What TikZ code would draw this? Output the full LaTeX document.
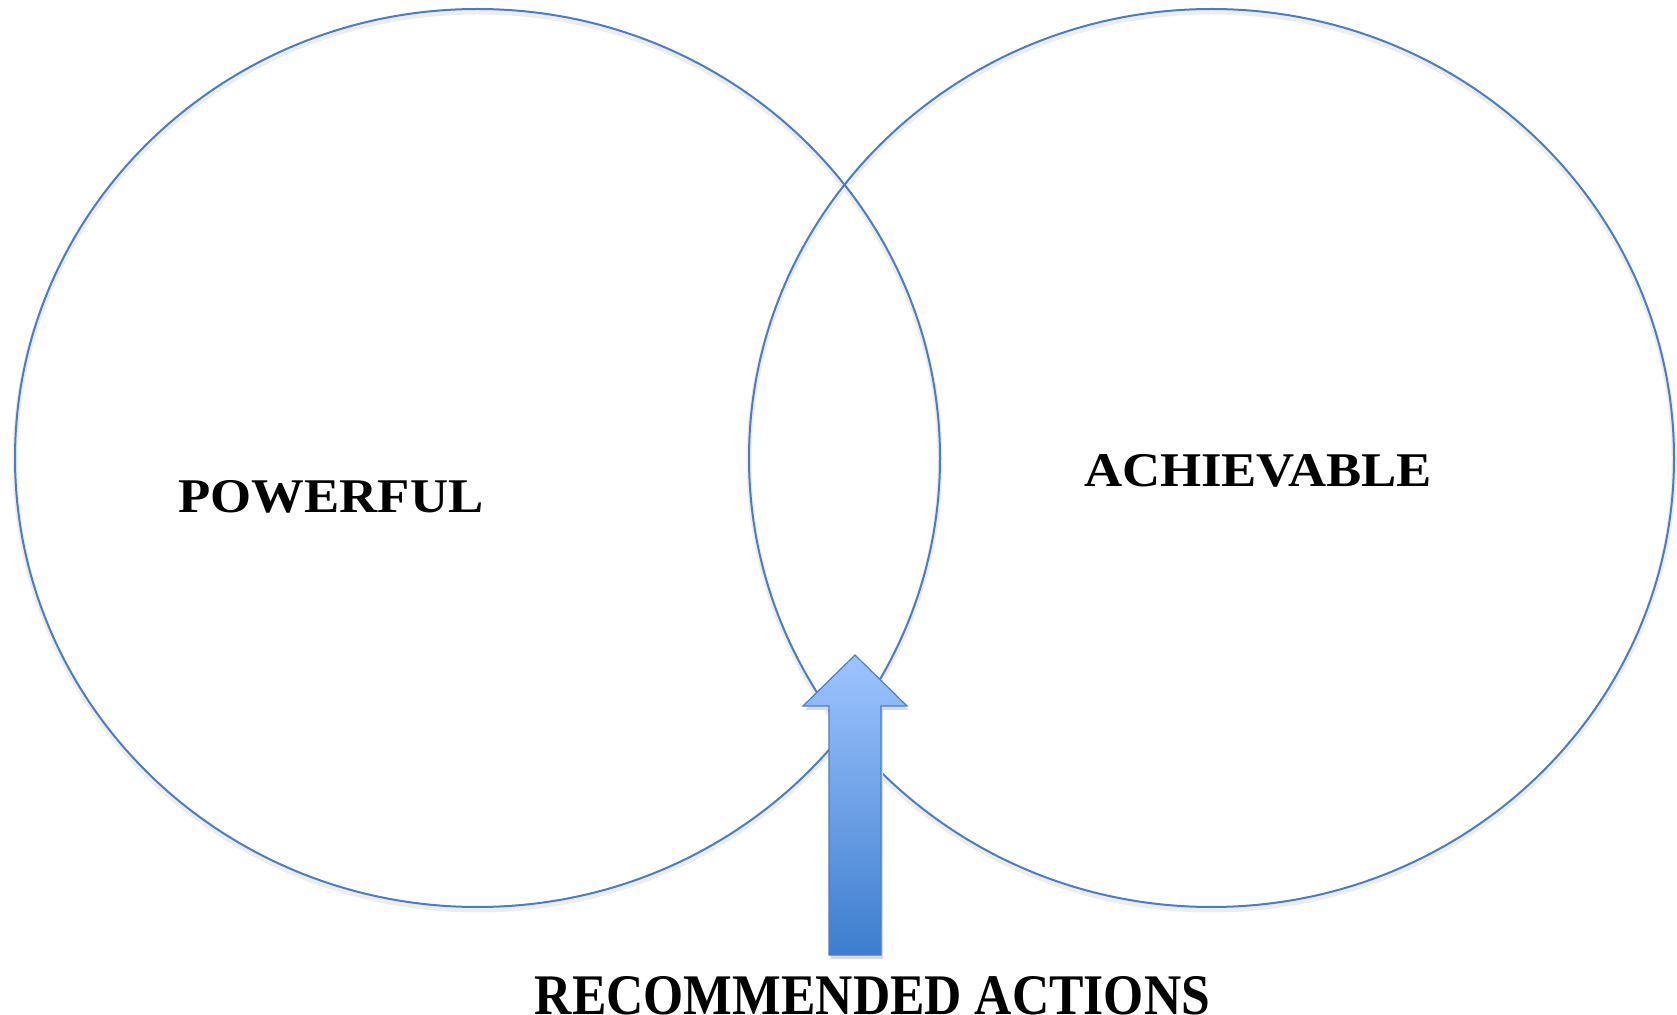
\documentclass[tikz,border=0pt]{standalone}
\usepackage{fontspec}
\setmainfont{Liberation Serif}

\definecolor{vennblue}{HTML}{4A7DC5}
\definecolor{arrowtop}{HTML}{9EC4FF}
\definecolor{arrowbot}{HTML}{3D7DCE}

\tikzset{
  venn/.style={draw=vennblue, line width=1pt},
  vennshadow/.style={draw=black!7, line width=2.5pt},
  vennlabel/.style={font=\bfseries\fontsize{24.2}{29}\selectfont, anchor=base, xscale=1.09},
}

\begin{document}
\begin{tikzpicture}[x=0.5pt, y=-0.5pt]

    % Page frame (pixel units, y downwards)
    \useasboundingbox (0,0) rectangle (1677,1015);

    % Soft shadows of the two sets
    \draw[vennshadow] (477.5,461) ellipse [x radius=462.5, y radius=449];
    \draw[vennshadow] (1211.5,461) ellipse [x radius=462.5, y radius=449];

    % Sets
    \draw[venn] (477.5,458) ellipse [x radius=462.5, y radius=449];
    \draw[venn] (1211.5,458) ellipse [x radius=462.5, y radius=449];

    \node[vennlabel] (powerful) at (331,513) {POWERFUL};
    \node[vennlabel] (achievable) at (1258,487) {ACHIEVABLE};

    % Arrow into the overlap
    \fill[black!15] (857,659) -- (909,710) -- (883,710) -- (883,959) -- (831,959) -- (831,710) -- (805,710) -- cycle;
    \shade[top color=arrowtop, bottom color=arrowbot, draw=vennblue, line width=0.6pt]
        (855,655) -- (907,706) -- (881,706) -- (881,955) -- (829,955) -- (829,706) -- (803,706) -- cycle;

    \node[vennlabel, font=\bfseries\fontsize{28.7}{34}\selectfont, xscale=0.899/1.09] (actions) at (872.5,1014) {RECOMMENDED ACTIONS};
\end{tikzpicture}
\end{document}
